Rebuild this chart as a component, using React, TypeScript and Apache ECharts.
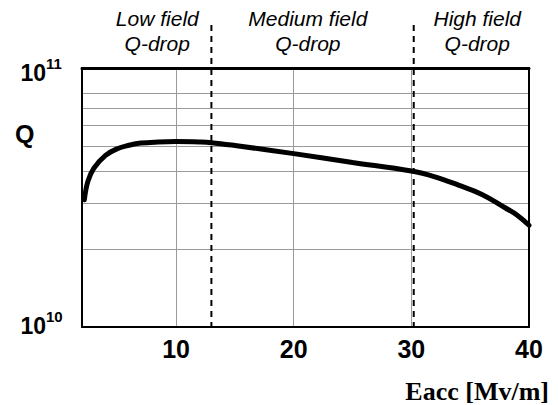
import React, { useEffect, useRef } from "react";
import * as echarts from "echarts";

// ---- data ----
const xTickLabels = [10, 20, 30, 40];
const yDecades = [1e10, 1e11];
const hGridValues = [2e10, 3e10, 4e10, 5e10, 6e10, 7e10, 8e10];
const vGridValues = [10, 20, 30];
const eaccValues = [2.2, 2.5, 3, 4, 5, 6, 7, 8.5, 10, 12, 13, 15, 20, 25, 30, 32, 34, 36, 38, 39, 40];
const qValues = [
  3.1e10, 3.65e10, 4.1e10, 4.6e10, 4.88e10, 5.03e10, 5.13e10, 5.18e10, 5.2e10, 5.18e10, 5.15e10,
  5.02e10, 4.67e10, 4.32e10, 4.0e10, 3.8e10, 3.53e10, 3.25e10, 2.88e10, 2.7e10, 2.47e10,
];
const dropBoundaries = [13, 30.2];
const regionLabels = ["Low field\nQ-drop", "Medium field\nQ-drop", "High field\nQ-drop"];
const regionCenters = [8.4, 21.2, 35.6];
const yAxisTitle = "Q";
const xAxisTitle = "Eacc [Mv/m]";

export default function App() {
  const ref = useRef<HTMLDivElement>(null);
  useEffect(() => {
    document.body.style.margin = "0";
    const chart = echarts.init(ref.current!, null, { renderer: "svg" });
    const gridLine = { color: "#9a9a9a", width: 1, type: "solid" as const };
    const axisCommon = {
      axisTick: { show: false },
      splitLine: { show: false },
      minorSplitLine: { show: false },
      z: 4,
    };
    chart.setOption({
      animation: false,
      grid: { left: 82, top: 68, right: 29, bottom: 78, containLabel: false },
      xAxis: [
        {
          type: "value",
          min: 2,
          max: 40,
          ...axisCommon,
          axisLine: { show: true, onZero: false, lineStyle: { color: "#000", width: 2 } },
          axisLabel: {
            customValues: xTickLabels,
            fontSize: 25,
            fontWeight: "bold",
            color: "#000",
            fontFamily: "Liberation Sans",
            margin: 9,
          },
        },
        {
          type: "value",
          min: 2,
          max: 40,
          position: "top",
          ...axisCommon,
          axisLine: { show: true, onZero: false, lineStyle: { color: "#000", width: 3 } },
          axisLabel: { show: false },
        },
      ],
      yAxis: [
        {
          type: "log",
          logBase: 10,
          min: 1e10,
          max: 1e11,
          ...axisCommon,
          axisLine: { show: true, onZero: false, lineStyle: { color: "#000", width: 2 } },
          axisLabel: { show: false },
        },
        {
          type: "log",
          logBase: 10,
          min: 1e10,
          max: 1e11,
          position: "right",
          ...axisCommon,
          axisLine: { show: true, onZero: false, lineStyle: { color: "#000", width: 2 } },
          axisLabel: { show: false },
        },
      ],
      series: [
        {
          type: "line",
          data: [],
          markLine: {
            silent: true,
            symbol: "none",
            z: 1,
            animation: false,
            label: { show: false },
            lineStyle: gridLine,
            emphasis: { disabled: true },
            data: [
              ...hGridValues.map((v) => ({ yAxis: v })),
              ...vGridValues.map((v) => ({ xAxis: v })),
            ],
          },
        },
        {
          type: "line",
          data: eaccValues.map((x, i) => [x, qValues[i]]),
          smooth: 0.4,
          symbol: "none",
          z: 3,
          lineStyle: { color: "#000", width: 5, cap: "round" },
        },
      ],
    });

    const yBottom = chart.convertToPixel({ yAxisIndex: 0 }, 1e10) as number;
    const xLeft = chart.convertToPixel({ xAxisIndex: 0 }, 2) as number;
    const graphics: any[] = [];
    dropBoundaries.forEach((x) => {
      const px = chart.convertToPixel({ xAxisIndex: 0 }, x) as number;
      graphics.push({
        type: "line",
        z: 10,
        silent: true,
        shape: { x1: px, y1: 25, x2: px, y2: yBottom },
        style: { stroke: "#000", lineWidth: 2, lineDash: [6, 5] },
      });
    });
    regionCenters.forEach((x, i) => {
      const px = chart.convertToPixel({ xAxisIndex: 0 }, x) as number;
      graphics.push({
        type: "text",
        x: px,
        y: 6,
        silent: true,
        style: {
          text: regionLabels[i],
          fill: "#000",
          font: "italic 21px 'Liberation Sans'",
          align: "center",
          verticalAlign: "top",
          lineHeight: 25,
        },
      });
    });
    // y-axis decade labels 10^n
    yDecades.forEach((v, i) => {
      const py = chart.convertToPixel({ yAxisIndex: 0 }, v) as number;
      const cy = py + (i === 0 ? -1 : 5);
      graphics.push({
        type: "text",
        x: xLeft - 36,
        y: cy,
        style: {
          text: "10",
          fill: "#000",
          font: "bold 23px 'Liberation Sans'",
          align: "right",
          verticalAlign: "middle",
        },
      });
      graphics.push({
        type: "text",
        x: xLeft - 36,
        y: cy - 10,
        style: {
          text: String(Math.round(Math.log10(v))),
          fill: "#000",
          font: "bold 15px 'Liberation Sans'",
          align: "left",
          verticalAlign: "middle",
        },
      });
    });
    graphics.push({
      type: "text",
      x: 15,
      y: 134,
      style: {
        text: yAxisTitle,
        fill: "#000",
        font: "bold 25px 'Liberation Sans'",
        align: "left",
        verticalAlign: "middle",
      },
    });
    graphics.push({
      type: "text",
      x: 549,
      y: 391,
      style: {
        text: xAxisTitle,
        fill: "#000",
        font: "bold 26px 'Liberation Serif'",
        align: "right",
        verticalAlign: "middle",
      },
    });
    chart.setOption({ graphic: graphics });

    return () => chart.dispose();
  }, []);
  return <div ref={ref} style={{ width: 558, height: 405 }} />;
}
